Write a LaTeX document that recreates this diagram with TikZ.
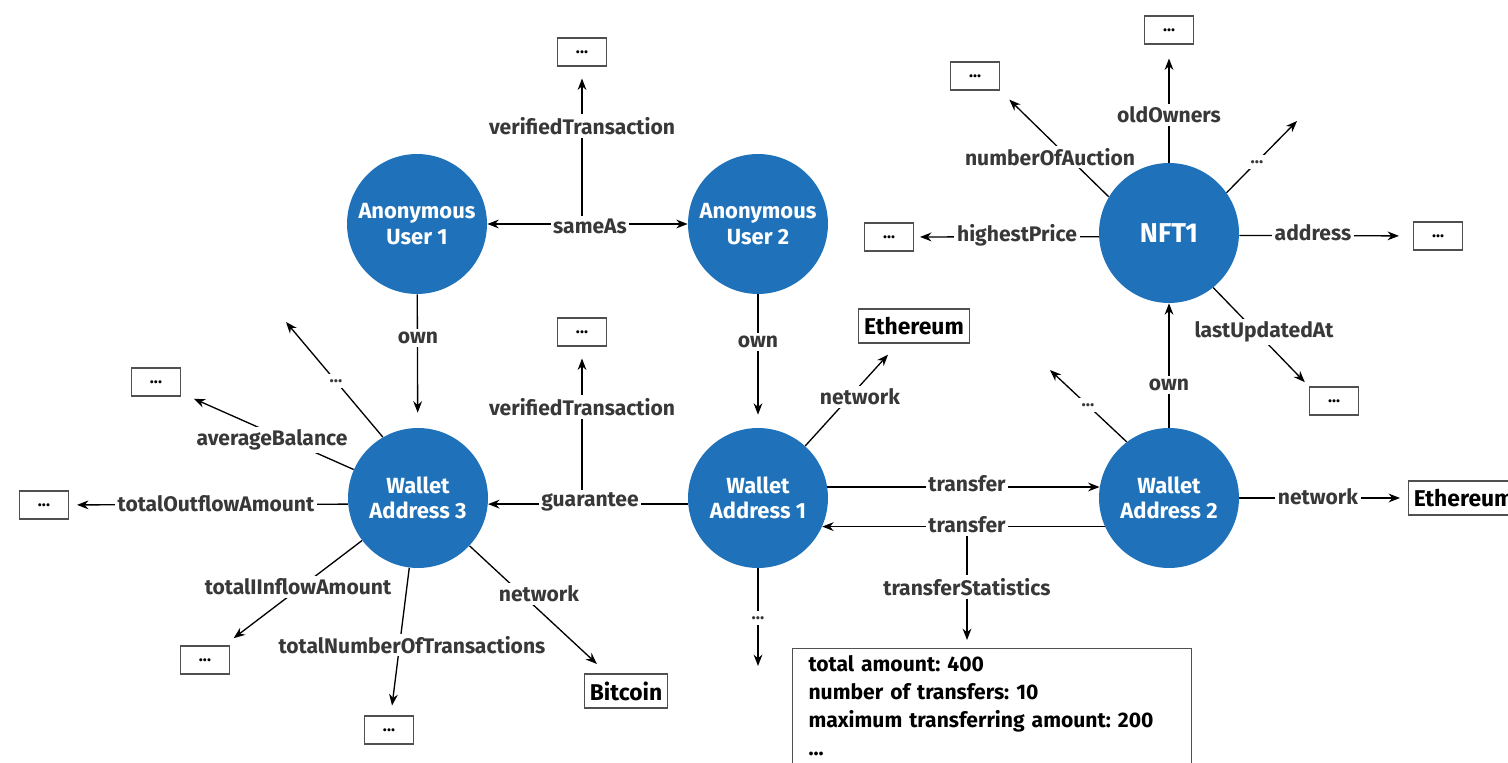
\documentclass[tikz,border=0pt]{standalone}
\usepackage{fontspec}
\setmainfont{Fira Sans}
\usetikzlibrary{arrows.meta}
\definecolor{nodeblue}{HTML}{1F72BA}
\definecolor{labelgray}{HTML}{383838}
\definecolor{boxgray}{HTML}{505050}
\frenchspacing
\tikzset{
  >={Stealth[length=6.5pt,width=5pt]},
  ent/.style={circle, fill=nodeblue, minimum size=2.8cm, inner sep=0pt, text=white,
    font={\fontsize{12.5}{14.5}\selectfont\bfseries}, align=center},
  lbl/.style={fill=white, inner sep=1.5pt, text=labelgray, font={\fontsize{12}{14}\selectfont\bfseries}},
  dots/.style={fill=white, inner sep=3pt, text=labelgray, font={\fontsize{10}{12}\selectfont\bfseries}},
  dbox/.style={draw=boxgray, line width=0.6pt, minimum width=0.98cm, minimum height=0.56cm,
    inner sep=0pt, font={\fontsize{9.5}{10}\selectfont\bfseries}},
  vbox/.style={draw=boxgray, line width=0.6pt, minimum height=0.68cm, inner xsep=3pt,
    font={\fontsize{13}{15}\selectfont\bfseries}},
  conn/.style={line width=0.75pt},
}
\begin{document}
\begin{tikzpicture}[x=0.02cm,y=-0.02cm]
\useasboundingbox (0,0) rectangle (1508,763);
% entities
\node[ent] (au1) at (417,224) {Anonymous\\User 1};
\node[ent] (au2) at (758,224) {Anonymous\\User 2};
\node[ent] (wa3) at (418,498) {Wallet\\Address 3};
\node[ent] (wa1) at (758,498) {Wallet\\Address 1};
\node[ent] (wa2) at (1169,498) {Wallet\\Address 2};
\node[ent, font={\fontsize{15.5}{17}\selectfont\bfseries}] (nft) at (1169,233) {NFT1};
% value boxes
\node[dbox] (b-vt1) at (582,52) {...};
\node[dbox] (b-vt2) at (582,332) {...};
\node[dbox] (b-ab) at (156,382) {...};
\node[dbox] (b-out) at (44,505) {...};
\node[dbox] (b-in) at (205,660) {...};
\node[dbox] (b-nt) at (389,730) {...};
\node[vbox] (btc) at (626,691) {Bitcoin};
\node[vbox] (eth1) at (914,326) {Ethereum};
\node[vbox, anchor=west] (eth2) at (1408,498) {Ethereum};
\node[dbox] (b-hp) at (889,237) {...};
\node[dbox] (b-noa) at (975,76) {...};
\node[dbox] (b-oo) at (1169,30) {...};
\node[dbox] (b-ad) at (1438,236) {...};
\node[dbox] (b-lu) at (1334,401) {...};
\node[draw=boxgray, line width=0.6pt, anchor=north west, inner xsep=0.32cm, inner ysep=0.14cm,
  text width=7.34cm, align=left, font={\fontsize{12}{15.9}\selectfont\bfseries}] (stats) at (792,648)
  {total amount: 400\\number of transfers: 10\\maximum transferring amount: 200\\...\\ \mbox{}};
% free ends
\coordinate (e-w3) at (286,322);
\coordinate (e-w1) at (758,666);
\coordinate (e-w2) at (1050,370);
\coordinate (e-nft) at (1297,121);
% connectors
\draw[conn,<->] (au1) -- (au2);
\draw[conn,->,shorten >=0.3cm] (au1) -- (wa3);
\draw[conn,->,shorten >=0.26cm] (au2) -- (wa1);
\draw[conn,->] (wa3.120.5) -- (e-w3);
\draw[conn,->,shorten >=0.28cm] (wa3) -- (b-ab);
\draw[conn,->,shorten >=0.16cm] (wa3.185.7) -- (b-out);
\draw[conn,->,shorten >=0.24cm] (wa3) -- (b-in);
\draw[conn,->,shorten >=0.2cm] (wa3) -- (b-nt);
\draw[conn,->,shorten >=0.28cm] (wa3) -- (btc);
\draw[conn,->] (wa1.185.7) -- (wa3.-5.7);
\draw[conn,->,shorten >=0.3cm] (wa1) -- (eth1);
\draw[conn,->] (wa1) -- (e-w1);
\draw[conn,->] (wa1.9) -- (wa2.171);
\draw[conn,->] (wa2.204.5) -- (wa1.-24.5);
\draw[conn,->] (wa2.127.5) -- (e-w2);
\draw[conn,->] (wa2) -- (nft);
\draw[conn,->,shorten >=0.16cm] (wa2) -- (eth2);
\draw[conn,->,shorten >=0.12cm] (nft.183.3) -- (b-hp);
\draw[conn,->,shorten >=0.26cm] (nft.149.5) -- (b-noa.south east);
\draw[conn,->,shorten >=0.28cm] (nft) -- (b-oo);
\draw[conn,->] (nft.35.7) -- (e-nft);
\draw[conn,->,shorten >=0.28cm] (nft.-2.5) -- (b-ad);
\draw[conn,->,shorten >=0.12cm] (nft.-51.3) -- (b-lu.north west);
% labels
\node[lbl] (l-same) at (590,226) {sameAs};
\node[lbl] (l-vt1) at (582,126) {verifiedTransaction};
\node[lbl] (l-own1) at (418,338) {own};
\node[lbl] (l-own2) at (758,342) {own};
\node[dots] (l-d3) at (336,381) {...};
\node[lbl] (l-ab) at (272,440) {averageBalance};
\node[lbl] (l-out) at (216,504) {totalOutflowAmount};
\node[lbl] (l-in) at (298,587) {totalIInflowAmount};
\node[lbl] (l-nt) at (412,645) {totalNumberOfTransactions};
\node[lbl] (l-net3) at (539,594) {network};
\node[lbl] (l-guar) at (590,502) {guarantee};
\node[lbl] (l-vt2) at (582,407) {verifiedTransaction};
\node[lbl] (l-net1) at (860,397) {network};
\node[dots] (l-d1) at (758,618) {...};
\node[lbl] (l-tr1) at (967,484) {transfer};
\node[lbl] (l-tr2) at (967,525) {transfer};
\node[lbl] (l-ts) at (967,587) {transferStatistics};
\node[dots] (l-d2) at (1088,405) {...};
\node[lbl] (l-own3) at (1169,385) {own};
\node[lbl] (l-net2) at (1318,497) {network};
\node[lbl] (l-hp) at (1017,235) {highestPrice};
\node[lbl] (l-noa) at (1050,157) {numberOfAuction};
\node[lbl] (l-oo) at (1169,115) {oldOwners};
\node[dots] (l-dn) at (1257,162) {...};
\node[lbl] (l-ad) at (1313,233) {address};
\node[lbl] (l-lu) at (1264,332) {lastUpdatedAt};
% connectors starting at labels
\draw[conn] (l-same.north -| l-vt1) -- (l-vt1);
\draw[conn,->,shorten >=0.24cm] (l-vt1) -- (b-vt1);
\draw[conn] (l-guar.north -| l-vt2) -- (l-vt2);
\draw[conn,->,shorten >=0.24cm] (l-vt2) -- (b-vt2);
\draw[conn] (l-tr2) -- (l-ts);
\draw[conn,->,shorten >=0.16cm] (l-ts) -- (l-ts |- stats.north);
\end{tikzpicture}
\end{document}
